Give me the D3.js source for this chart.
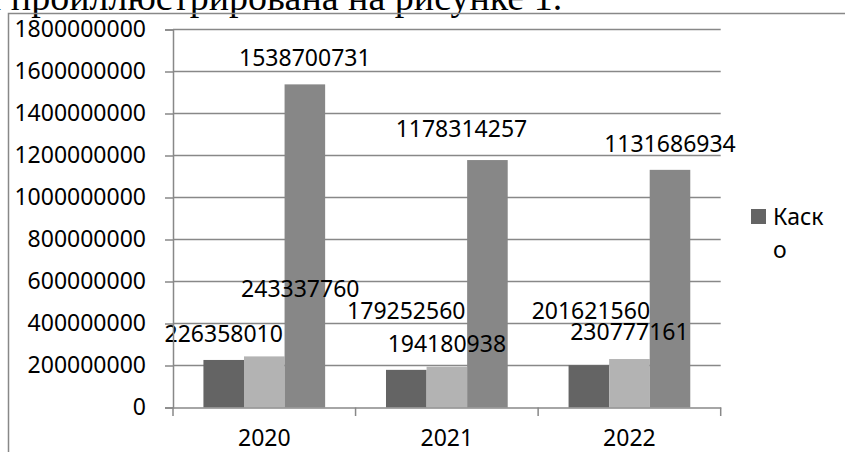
<!DOCTYPE html>
<html>
<head>
<meta charset="utf-8">
<script src="https://cdn.jsdelivr.net/npm/d3@7"></script>
<style>
  body { margin: 0; background: #fff; }
  svg { display: block; }
  text { font-family: "Noto Sans", "Open Sans", sans-serif; fill: #000; }
</style>
</head>
<body>
<div class="chart"></div>
<script>
// данные с картинки
const years = ['2020', '2021', '2022']
const seriesNames = ['Каско', 'Ряд 2', 'Ряд 3']
const kasko = [226358010, 179252560, 201621560]
const series2 = [243337760, 194180938, 230777161]
const series3 = [1538700731, 1178314257, 1131686934]
const yTicks = [0, 200000000, 400000000, 600000000, 800000000, 1000000000, 1200000000, 1400000000, 1600000000, 1800000000]

// сдвиг подписей (так они стоят в исходнике)
const labelShift = [
  [[0, 0], [36, -41], [0, 0]],
  [[0, -33], [0, 3], [-26, -5]],
  [[2, -28], [0, -1], [0, 0]]
]

const colors = ['#646464', '#b3b3b3', '#878787']

const W = 845, H = 452
const margin = {top: 29.5, right: 124.3, bottom: 44.5, left: 173}
const width = W - margin.left - margin.right
const height = H - margin.top - margin.bottom

const root = d3.select('.chart')
  .append('svg')
    .attr('width', W)
    .attr('height', H)

// кусок текста документа сверху (обрезан краем)
root.append('text')
  .attr('x', -19)
  .attr('y', 10)
  .style('font-family', '"Liberation Serif", serif')
  .style('font-size', '38px')
  .text('и проиллюстрирована на рисунке 1.')

// рамка области диаграммы
root.append('path')
  .attr('d', `M8.5,${H + 2}V13.5H${W + 2}`)
  .attr('fill', 'none')
  .attr('stroke', '#888')
  .attr('stroke-width', 1.5)

const svg = root.append('g')
  .attr('transform', `translate(${margin.left}, ${margin.top})`)

const data = years.map((y, i) => ({
  year: y,
  values: [kasko[i], series2[i], series3[i]]
}))

const x0 = d3.scaleBand().domain(years).range([0, width])
const x1 = d3.scaleBand().domain(d3.range(3)).range([0, x0.bandwidth()]).paddingOuter(0.75)
const y = d3.scaleLinear().domain([0, 1800000000]).range([height, 0])

// сетка
svg.append('g')
  .selectAll('line')
  .data(yTicks.slice(1))
  .enter()
  .append('line')
    .attr('x1', 0)
    .attr('x2', width)
    .attr('y1', d => y(d))
    .attr('y2', d => y(d))
    .attr('stroke', '#888')
    .attr('stroke-width', 1.3)

// столбики
const groups = svg.selectAll('.grp')
  .data(data)
  .enter()
  .append('g')
    .attr('class', 'grp')
    .attr('transform', d => `translate(${x0(d.year)}, 0)`)

groups.selectAll('rect')
  .data(d => d.values)
  .enter()
  .append('rect')
    .attr('x', (d, i) => x1(i))
    .attr('width', x1.bandwidth())
    .attr('y', d => y(d))
    .attr('height', d => height - y(d))
    .attr('fill', (d, i) => colors[i])

// подписи значений
groups.each(function(d, gi) {
  d3.select(this).selectAll('.lbl')
    .data(d.values)
    .enter()
    .append('text')
      .attr('class', 'lbl')
      .attr('x', (v, i) => x1(i) + x1.bandwidth() / 2 + labelShift[gi][i][0])
      .attr('y', (v, i) => y(v) - 26 + labelShift[gi][i][1])
      .attr('dy', '0.35em')
      .attr('text-anchor', 'middle')
      .style('font-size', '23px')
      .text(v => d3.format('d')(v))
})

// ось y
const yAxis = svg.append('g')
  .call(d3.axisLeft(y).tickValues(yTicks).tickSize(8).tickPadding(19).tickFormat(d3.format('d')))
yAxis.select('.domain').attr('stroke', '#888').attr('stroke-width', 1.5)
yAxis.selectAll('.tick line').attr('stroke', '#888').attr('stroke-width', 1.5)
yAxis.selectAll('.tick text').style('font-size', '23px').style('font-family', '"Noto Sans", sans-serif')

// ось x
const xAxis = svg.append('g')
  .attr('transform', `translate(0, ${height})`)
  .call(d3.axisBottom(x0).tickSize(0).tickPadding(22))
xAxis.select('.domain').attr('stroke', '#888').attr('stroke-width', 1.5)
xAxis.selectAll('.tick text').style('font-size', '23px').style('font-family', '"Noto Sans", sans-serif')

svg.append('g')
  .selectAll('line')
  .data(years.map(d => x0(d)).concat([width]))
  .enter()
  .append('line')
    .attr('x1', d => d)
    .attr('x2', d => d)
    .attr('y1', height)
    .attr('y2', height + 8.5)
    .attr('stroke', '#888')
    .attr('stroke-width', 1.5)

// легенда (видна только одна запись)
const legend = root.append('g').attr('transform', 'translate(751, 209)')
legend.append('rect')
  .attr('width', 15)
  .attr('height', 15)
  .attr('fill', colors[0])
legend.append('text')
  .attr('x', 22)
  .attr('y', 16)
  .style('font-size', '23px')
  .selectAll('tspan')
  .data([seriesNames[0].slice(0, 4), seriesNames[0].slice(4)])
  .enter()
  .append('tspan')
    .attr('x', 22)
    .attr('dy', (d, i) => i ? 33 : 0)
    .text(d => d)
</script>
</body>
</html>
